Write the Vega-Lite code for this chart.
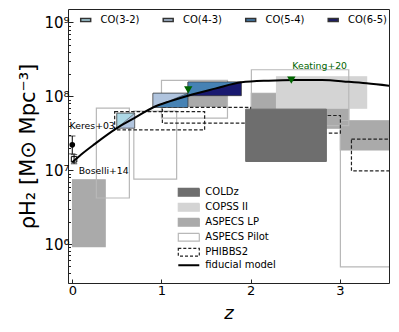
{
  "$schema": "https://vega.github.io/schema/vega-lite/v6.json",
  "width": 321,
  "height": 274,
  "autosize": {"type": "none"},
  "padding": {"left": 68, "top": 9, "right": 10, "bottom": 49},
  "config": {
    "font": "DejaVu Sans",
    "view": {"stroke": "#222", "strokeWidth": 1},
    "axis": {"grid": false, "domain": false, "tickColor": "#222", "labelColor": "#000", "titleColor": "#000", "labelFont": "DejaVu Sans", "titleFont": "DejaVu Sans", "titleFontWeight": "normal"},
    "legend": {"labelFont": "DejaVu Sans", "labelFontSize": 10, "labelColor": "#000", "padding": 0}
  },
  "datasets": {
    "src": [
      {"source": "ASPECS LP", "z1": 0.003, "z2": 0.369, "lo": 920000, "hi": 7400000},
      {"source": "ASPECS LP", "z1": 1.006, "z2": 1.738, "lo": 73000000, "hi": 106000000},
      {"source": "ASPECS LP", "z1": 2.008, "z2": 3.1, "lo": 37000000, "hi": 110000000},
      {"source": "ASPECS LP", "z1": 3.006, "z2": 4.0, "lo": 18800000, "hi": 47000000},
      {"source": "COPSS II", "z1": 2.29, "z2": 3.3, "lo": 69000000, "hi": 184000000},
      {"source": "ASPECS Pilot", "z1": 0.27, "z2": 0.64, "lo": 4200000, "hi": 69000000},
      {"source": "ASPECS Pilot", "z1": 0.69, "z2": 1.17, "lo": 7550000, "hi": 63000000},
      {"source": "ASPECS Pilot", "z1": 1.0, "z2": 1.74, "lo": 50700000, "hi": 164000000},
      {"source": "ASPECS Pilot", "z1": 2.008, "z2": 3.1, "lo": 40000000, "hi": 229000000},
      {"source": "ASPECS Pilot", "z1": 3.006, "z2": 4.0, "lo": 490000, "hi": 47000000}
    ],
    "phibbs": [
      {"source": "PHIBBS2", "z1": 0.475, "z2": 1.484, "lo": 35000000, "hi": 62000000},
      {"source": "PHIBBS2", "z1": 1.01, "z2": 2.0, "lo": 43400000, "hi": 71000000},
      {"source": "PHIBBS2", "z1": 2.0, "z2": 3.006, "lo": 31700000, "hi": 55000000},
      {"source": "PHIBBS2", "z1": 3.13, "z2": 4.0, "lo": 9800000, "hi": 26300000}
    ],
    "coldz": [
      {"source": "COLDz", "z1": 1.944, "z2": 2.849, "lo": 13100000, "hi": 67000000}
    ],
    "cobox": [
      {"box": "K", "co": "CO(4-3)", "z1": 0.5, "z2": 0.7, "lo": 37000000, "hi": 59000000},
      {"box": "B43", "co": "CO(5-4)", "z1": 0.905, "z2": 1.297, "lo": 70500000, "hi": 110000000},
      {"box": "B54", "co": "CO(6-5)", "z1": 1.297, "z2": 1.896, "lo": 102000000, "hi": 156000000}
    ],
    "cotri": [
      {"box": "K", "co": "CO(3-2)", "z": 0.5, "lo": 37000000, "hi": 59000000},
      {"box": "K", "co": "CO(3-2)", "z": 0.7, "lo": 59000000, "hi": 59000000},
      {"box": "B43", "co": "CO(4-3)", "z": 0.905, "lo": 70500000, "hi": 110000000},
      {"box": "B43", "co": "CO(4-3)", "z": 1.297, "lo": 110000000, "hi": 110000000},
      {"box": "B54", "co": "CO(5-4)", "z": 1.297, "lo": 102000000, "hi": 156000000},
      {"box": "B54", "co": "CO(5-4)", "z": 1.896, "lo": 156000000, "hi": 156000000}
    ],
    "model": [
      {"source": "fiducial model", "z": 0.0, "rho": 12800000},
      {"source": "fiducial model", "z": 0.1, "rho": 16300000},
      {"source": "fiducial model", "z": 0.25, "rho": 22500000},
      {"source": "fiducial model", "z": 0.5, "rho": 37000000},
      {"source": "fiducial model", "z": 0.7, "rho": 51000000},
      {"source": "fiducial model", "z": 0.905, "rho": 70500000},
      {"source": "fiducial model", "z": 1.1, "rho": 86000000},
      {"source": "fiducial model", "z": 1.297, "rho": 102000000},
      {"source": "fiducial model", "z": 1.6, "rho": 127000000},
      {"source": "fiducial model", "z": 1.896, "rho": 155000000},
      {"source": "fiducial model", "z": 2.2, "rho": 163000000},
      {"source": "fiducial model", "z": 2.5, "rho": 166000000},
      {"source": "fiducial model", "z": 2.8, "rho": 166000000},
      {"source": "fiducial model", "z": 3.1, "rho": 157000000},
      {"source": "fiducial model", "z": 3.3, "rho": 150000000},
      {"source": "fiducial model", "z": 3.6, "rho": 137000000}
    ],
    "obs": [
      {"name": "Keres+03", "z": 0.0, "rho": 22000000, "lo": 16600000, "hi": 29000000},
      {"name": "Boselli+14", "z": 0.02, "rho": 14000000, "lo": 12200000, "hi": 16200000}
    ],
    "keating": [
      {"z": 1.3, "rho": 122000000},
      {"z": 2.456, "rho": 166000000}
    ],
    "labels": [
      {"text": "Keres+03", "z": -0.03, "rho": 40000000},
      {"text": "Boselli+14", "z": 0.072, "rho": 9800000}
    ],
    "klabel": [
      {"text": "Keating+20", "z": 2.467, "rho": 254000000}
    ]
  },
  "layer": [
    {
      "data": {"name": "src"},
      "mark": {"type": "rect", "clip": true, "strokeWidth": 1.2},
      "encoding": {
        "x": {"field": "z1", "type": "quantitative", "scale": {"domain": [-0.048, 3.551], "nice": false, "zero": false},
          "axis": {"values": [0, 1, 2, 3], "format": "d", "title": "z", "titleFontStyle": "italic", "titleFontSize": 18, "labelFontSize": 13, "tickSize": -4, "labelPadding": 5, "titlePadding": 7}},
        "x2": {"field": "z2"},
        "y": {"field": "lo", "type": "quantitative", "scale": {"type": "log", "domain": [296500, 1521000000], "nice": false},
          "axis": {
            "values": [300000, 400000, 500000, 600000, 700000, 800000, 900000, 1000000, 2000000, 3000000, 4000000, 5000000, 6000000, 7000000, 8000000, 9000000, 10000000, 20000000, 30000000, 40000000, 50000000, 60000000, 70000000, 80000000, 90000000, 100000000, 200000000, 300000000, 400000000, 500000000, 600000000, 700000000, 800000000, 900000000, 1000000000],
            "labelExpr": "datum.value == 1000000 ? '10⁶' : datum.value == 10000000 ? '10⁷' : datum.value == 100000000 ? '10⁸' : datum.value == 1000000000 ? '10⁹' : ''",
            "tickSize": {"condition": {"test": "datum.value == 1000000 || datum.value == 10000000 || datum.value == 100000000 || datum.value == 1000000000", "value": -5}, "value": -2.5},
            "labelOverlap": false,
            "labelFontSize": 15,
            "labelPadding": 4,
            "title": "ρH₂ [M⊙ Mpc⁻³]",
            "titleFontSize": 21,
            "titlePadding": 5
          }},
        "y2": {"field": "hi"},
        "fill": {"field": "source", "type": "nominal",
          "scale": {"domain": ["COLDz", "COPSS II", "ASPECS LP", "ASPECS Pilot", "PHIBBS2", "fiducial model"], "range": ["#6e6e6e", "#d4d4d4", "#aaaaaa", "rgba(255,255,255,0)", "rgba(255,255,255,0)", "rgba(255,255,255,0)"]},
          "legend": {"orient": "none", "legendX": 115.8, "legendY": 178.3, "title": null, "symbolType": "M-1.5,-0.55H1.5V0.55H-1.5Z", "symbolSize": 196, "labelOffset": 11.5, "rowPadding": 1, "labelFontSize": 10,
            "encode": {"symbols": {"update": {"shape": {"signal": "datum.value === 'fiducial model' ? 'M-1.5,0H1.5' : 'M-1.5,-0.55H1.5V0.55H-1.5Z'"}, "strokeWidth": {"signal": "datum.value === 'fiducial model' ? 2 : 1.2"}, "strokeDash": {"signal": "datum.value === 'PHIBBS2' ? [3, 2] : [1, 0]"}}}}}},
        "stroke": {"field": "source", "type": "nominal",
          "scale": {"domain": ["COLDz", "COPSS II", "ASPECS LP", "ASPECS Pilot", "PHIBBS2", "fiducial model"], "range": ["#6e6e6e", "#d4d4d4", "#aaaaaa", "#b8b8b8", "#222222", "#000000"]},
          "legend": {"orient": "none", "legendX": 115.8, "legendY": 178.3, "title": null, "symbolType": "M-1.5,-0.55H1.5V0.55H-1.5Z", "symbolSize": 196, "labelOffset": 11.5, "rowPadding": 1, "labelFontSize": 10,
            "encode": {"symbols": {"update": {"shape": {"signal": "datum.value === 'fiducial model' ? 'M-1.5,0H1.5' : 'M-1.5,-0.55H1.5V0.55H-1.5Z'"}, "strokeWidth": {"signal": "datum.value === 'fiducial model' ? 2 : 1.2"}, "strokeDash": {"signal": "datum.value === 'PHIBBS2' ? [3, 2] : [1, 0]"}}}}}}
      }
    },
    {
      "data": {"name": "phibbs"},
      "mark": {"type": "rect", "clip": true, "strokeWidth": 1.2, "strokeDash": [3.5, 2]},
      "encoding": {
        "x": {"field": "z1", "type": "quantitative"},
        "x2": {"field": "z2"},
        "y": {"field": "lo", "type": "quantitative"},
        "y2": {"field": "hi"},
        "fill": {"field": "source", "type": "nominal"},
        "stroke": {"field": "source", "type": "nominal"}
      }
    },
    {
      "data": {"name": "coldz"},
      "mark": {"type": "rect", "clip": true, "strokeWidth": 1},
      "encoding": {
        "x": {"field": "z1", "type": "quantitative"},
        "x2": {"field": "z2"},
        "y": {"field": "lo", "type": "quantitative"},
        "y2": {"field": "hi"},
        "fill": {"field": "source", "type": "nominal"},
        "stroke": {"field": "source", "type": "nominal"}
      }
    },
    {
      "data": {"name": "cobox"},
      "mark": {"type": "rect", "clip": true, "stroke": "#333", "strokeWidth": 0.7, "opacity": 1},
      "encoding": {
        "x": {"field": "z1", "type": "quantitative"},
        "x2": {"field": "z2"},
        "y": {"field": "lo", "type": "quantitative"},
        "y2": {"field": "hi"},
        "color": {"field": "co", "type": "nominal",
          "scale": {"domain": ["CO(3-2)", "CO(4-3)", "CO(5-4)", "CO(6-5)"], "range": ["#add8e6", "#b0c4de", "#4682b4", "#191970"]},
          "legend": {"orient": "none", "direction": "horizontal", "legendX": 12.7, "legendY": 6, "title": null, "symbolType": "M-1.5,-0.45H1.5V0.45H-1.5Z", "symbolSize": 44, "labelOffset": 9.7, "columnPadding": 20.5, "labelFontSize": 10, "symbolOpacity": 1,
            "encode": {"symbols": {"update": {"stroke": {"value": "#333"}, "strokeWidth": {"value": 0.8}, "opacity": {"value": 1}}}}}}
      }
    },
    {
      "data": {"name": "cotri"},
      "mark": {"type": "area", "clip": true, "stroke": "#333", "strokeWidth": 0.5, "opacity": 1},
      "encoding": {
        "x": {"field": "z", "type": "quantitative"},
        "y": {"field": "lo", "type": "quantitative"},
        "y2": {"field": "hi"},
        "detail": {"field": "box"},
        "color": {"field": "co", "type": "nominal"}
      }
    },
    {
      "data": {"name": "model"},
      "mark": {"type": "line", "clip": true, "strokeWidth": 2, "interpolate": "monotone"},
      "encoding": {
        "x": {"field": "z", "type": "quantitative"},
        "y": {"field": "rho", "type": "quantitative"},
        "stroke": {"field": "source", "type": "nominal"}
      }
    },
    {
      "data": {"name": "obs"},
      "mark": {"type": "rule", "color": "#000", "strokeWidth": 1},
      "encoding": {
        "x": {"field": "z", "type": "quantitative"},
        "y": {"field": "lo", "type": "quantitative"},
        "y2": {"field": "hi"}
      }
    },
    {
      "data": {"name": "obs"},
      "mark": {"type": "point", "shape": "stroke", "stroke": "#000", "strokeWidth": 1, "size": 40},
      "encoding": {
        "x": {"field": "z", "type": "quantitative"},
        "y": {"field": "hi", "type": "quantitative"}
      }
    },
    {
      "data": {"name": "obs"},
      "mark": {"type": "point", "shape": "stroke", "stroke": "#000", "strokeWidth": 1, "size": 40},
      "encoding": {
        "x": {"field": "z", "type": "quantitative"},
        "y": {"field": "lo", "type": "quantitative"}
      }
    },
    {
      "data": {"name": "obs"},
      "transform": [{"filter": "datum.name == 'Keres+03'"}],
      "mark": {"type": "point", "shape": "circle", "filled": true, "color": "#000", "size": 32, "opacity": 1},
      "encoding": {
        "x": {"field": "z", "type": "quantitative"},
        "y": {"field": "rho", "type": "quantitative"}
      }
    },
    {
      "data": {"name": "obs"},
      "transform": [{"filter": "datum.name == 'Boselli+14'"}],
      "mark": {"type": "point", "shape": "square", "filled": false, "stroke": "#000", "strokeWidth": 1, "size": 30, "opacity": 1},
      "encoding": {
        "x": {"field": "z", "type": "quantitative"},
        "y": {"field": "rho", "type": "quantitative"}
      }
    },
    {
      "data": {"name": "keating"},
      "mark": {"type": "point", "shape": "triangle-down", "filled": true, "color": "#006400", "size": 70, "opacity": 1},
      "encoding": {
        "x": {"field": "z", "type": "quantitative"},
        "y": {"field": "rho", "type": "quantitative"}
      }
    },
    {
      "data": {"name": "labels"},
      "mark": {"type": "text", "align": "left", "baseline": "middle", "fontSize": 9.3, "color": "#000"},
      "encoding": {
        "x": {"field": "z", "type": "quantitative"},
        "y": {"field": "rho", "type": "quantitative"},
        "text": {"field": "text"}
      }
    },
    {
      "data": {"name": "klabel"},
      "mark": {"type": "text", "align": "left", "baseline": "middle", "fontSize": 9.3, "color": "#006400"},
      "encoding": {
        "x": {"field": "z", "type": "quantitative"},
        "y": {"field": "rho", "type": "quantitative"},
        "text": {"field": "text"}
      }
    }
  ]
}
